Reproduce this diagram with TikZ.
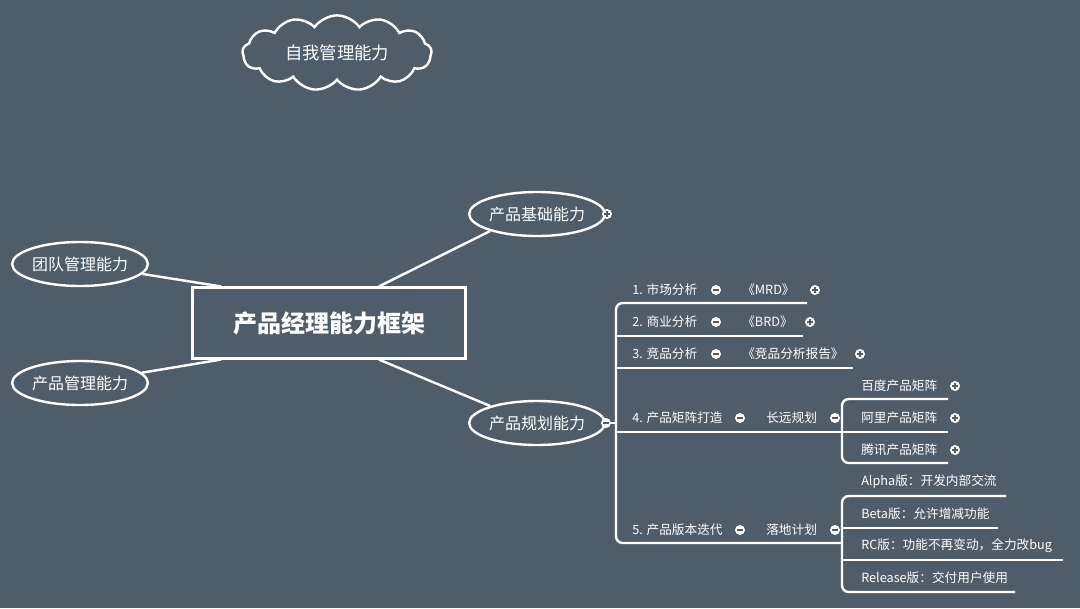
\documentclass[tikz,border=0pt]{standalone}
\usepackage{fontspec}
\setmainfont{Noto Sans CJK SC}
\usetikzlibrary{shapes.geometric,shapes.symbols}
\definecolor{bgcol}{HTML}{4F5D6B}
\tikzset{
  line/.style={draw=white, line width=1.8pt},
  topic/.style={ellipse, draw=white, line width=1.8pt, fill=bgcol, text=white,
    font=\fontsize{12}{14}\selectfont, minimum width=100pt, minimum height=33pt, inner sep=0pt},
  item/.style={text=white, font=\fontsize{9.5}{11}\selectfont, anchor=west, inner sep=0pt},
  tog/.style={circle, fill=white, minimum size=7.5pt, inner sep=0pt},
  minusmark/.style={tog, path picture={\draw[bgcol, line width=1.1pt]
    ([xshift=-2pt]path picture bounding box.center) -- ([xshift=2pt]path picture bounding box.center);}},
  plusmark/.style={tog, path picture={\draw[bgcol, line width=1.1pt]
    ([xshift=-2pt]path picture bounding box.center) -- ([xshift=2pt]path picture bounding box.center)
    ([yshift=-2pt]path picture bounding box.center) -- ([yshift=2pt]path picture bounding box.center);}}
}
\begin{document}
\begin{tikzpicture}[x=0.75pt, y=-0.75pt]
  \fill[bgcol] (0,0) rectangle (1080,608);
  \useasboundingbox (0,0) rectangle (1080,608);

  % main topics
  \node[draw=white, line width=1.8pt, text=white, font=\fontsize{18}{20}\selectfont\bfseries,
    minimum width=205pt, minimum height=53pt] (core) at (329,323) {产品经理能力框架};
  \node[cloud, cloud puffs=13, cloud puff arc=110, aspect=2.8, draw=white, line width=1.8pt, text=white,
    font=\fontsize{13}{15}\selectfont, minimum width=142pt, minimum height=50pt] (self) at (337,53) {自我管理能力};
  \node[topic] (base) at (537,214) {产品基础能力};
  \node[topic] (plan) at (537,423) {产品规划能力};
  \node[topic, minimum width=96pt] (team) at (80,264) {团队管理能力};
  \node[topic, minimum width=96pt] (prod) at (80,383) {产品管理能力};

  \draw[line] (core.north east) ++(-88,0) -- (base.200);
  \draw[line] (core.south east) ++(-88,0) -- (plan.160);
  \draw[line] (core.north west) ++(30,0) -- (team);
  \draw[line] (core.south west) ++(30,0) -- (prod);

  \node[plusmark] (basetog) at (607,214) {};
  \node[minusmark] (plantog) at (606,423) {};

  % first level items
  \node[item] (i1) at (632,290) {1. 市场分析};
  \node[item] (i2) at (632,322) {2. 商业分析};
  \node[item] (i3) at (632,354) {3. 竞品分析};
  \node[item] (i4) at (632,418) {4. 产品矩阵打造};
  \node[item] (i5) at (632,530) {5. 产品版本迭代};
  \node[minusmark] (t1) at (716,290) {};
  \node[minusmark] (t2) at (716,322) {};
  \node[minusmark] (t3) at (716,354) {};
  \node[minusmark] (t4) at (740,418) {};
  \node[minusmark] (t5) at (740,530) {};

  \node[item] (d1) at (742,290) {《MRD》};
  \node[item] (d2) at (742,322) {《BRD》};
  \node[item] (d3) at (742,354) {《竞品分析报告》};
  \node[item] (d4) at (766,418) {长远规划};
  \node[item] (d5) at (766,530) {落地计划};
  \node[plusmark] (p1) at (815,290) {};
  \node[plusmark] (p2) at (810,322) {};
  \node[plusmark] (p3) at (860,354) {};
  \node[minusmark] (s4) at (835,418) {};
  \node[minusmark] (s5) at (835,530) {};

  \draw[line, rounded corners=5] (807,303) -- (616,303) -- (616,543) -- (842,543);
  \draw[line] (616,336) -- (803,336);
  \draw[line] (616,368) -- (853,368);
  \draw[line] (616,432) -- (842,432);
  \draw[line] (plantog) -- (616,423);

  % matrix items
  \node[item] (m1) at (861,386) {百度产品矩阵};
  \node[item] (m2) at (861,418) {阿里产品矩阵};
  \node[item] (m3) at (861,450) {腾讯产品矩阵};
  \node[plusmark] (mp1) at (955,386) {};
  \node[plusmark] (mp2) at (955,418) {};
  \node[plusmark] (mp3) at (955,450) {};
  \draw[line, rounded corners=5] (948,399) -- (842,399) -- (842,463) -- (948,463);
  \draw[line] (842,432) -- (948,432);

  % version items
  \node[item] (v1) at (861,482) {Alpha版：开发内部交流};
  \node[item] (v2) at (861,514) {Beta版：允许增减功能};
  \node[item] (v3) at (861,546) {RC版：功能不再变动，全力改bug};
  \node[item] (v4) at (861,578) {Release版：交付用户使用};
  \draw[line, rounded corners=5] (1006,496) -- (842,496) -- (842,592) -- (1015,592);
  \draw[line] (842,528) -- (998,528);
  \draw[line] (842,560) -- (1063,560);
\end{tikzpicture}
\end{document}
